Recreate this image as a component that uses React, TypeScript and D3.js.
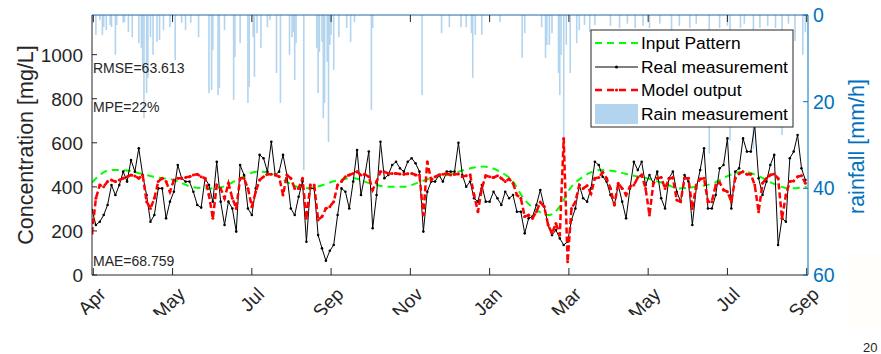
import React from 'react';
import * as d3 from 'd3';

const W = 881;
const H = 354;
const FONT = "'Liberation Sans', Arial, Helvetica, sans-serif";

// Real measurement: one sample every 3 days, starting at day 0
const realStep = 3;
const realValues = [
  295, 227, 242, 272, 318, 408, 363, 408, 469, 424, 522, 469, 575, 454, 363, 242, 272, 393, 393, 257,
  333, 378, 499, 439, 424, 424, 378, 318, 306, 439, 408, 333, 514, 333, 227, 333, 302, 197, 499, 454,
  302, 272, 393, 545, 530, 469, 605,
  454, 469, 545, 454, 302, 272, 355, 424, 151, 393, 393, 181, 121, 65, 110, 136, 272, 393, 378, 302,
  424, 567, 363, 454, 560, 212, 363, 605, 439, 454, 499, 514, 484, 469, 514, 530, 507, 469, 197, 378,
  424, 424, 454, 424, 469,
  469, 469, 600, 454, 401, 424, 348, 333, 408, 333, 333, 378, 348, 318, 378, 348, 363, 287, 287, 189,
  257, 265, 318, 386, 310, 227, 181, 204, 166, 136, 151, 250, 302, 408, 348, 333, 393, 514, 499, 446,
  424, 363, 318, 408, 333, 257, 393,
  514, 476, 514, 408, 454, 416, 469, 348, 302, 439, 469, 378, 333, 454, 424, 227, 393, 476, 575, 302,
  302, 363, 484, 499, 620, 302, 469, 484, 620, 560, 560, 680, 439, 363, 424, 499, 545, 136, 257, 242,
  530, 560, 635, 484, 431,
];

// Model output: same sampling as the real measurement
const modelValues = [
  190, 348, 408, 401, 424, 431, 424, 431, 439, 446, 454, 449, 439, 454, 333, 302, 348, 424, 439, 424,
  378, 431, 439, 439, 443, 446, 454, 457, 446, 439, 363, 257, 408, 393, 348, 416, 348, 302, 439, 439,
  393, 310, 378, 431, 446, 457, 457,
  454, 446, 363, 454, 439, 393, 393, 439, 257, 408, 408, 250, 265, 302, 310, 333, 408, 424, 446, 454,
  461, 469, 454, 457, 446, 386, 424, 469, 469, 461, 461, 461, 458, 457, 460, 461, 454, 454, 272, 514,
  431, 446, 454, 457, 460,
  454, 457, 458, 446, 451, 454, 363, 287, 393, 451, 446, 442, 451, 439, 424, 436, 416, 363, 348, 265,
  272, 257, 287, 330, 310, 227, 189, 234, 181, 620, 60, 302, 333, 408, 393, 405, 370, 439, 442, 466,
  439, 393, 318, 416, 393, 363, 401,
  408, 442, 454, 393, 272, 416, 439, 443, 393, 436, 442, 340, 333, 439, 439, 302, 408, 436, 439, 333,
  333, 408, 420, 386, 378, 333, 439, 460, 469, 457, 457, 408, 287, 416, 439, 454, 458, 439, 257, 363,
  424, 427, 446, 451, 416,
];

// Input pattern (smooth)
const inputDays = [
  0, 14, 24, 37, 50, 63, 78, 91, 101, 114, 127, 137, 152, 163, 173, 188, 201, 214, 227, 240,
  253, 265, 276, 286, 301, 314, 324, 332, 342, 352, 360, 368, 378, 391, 404, 414, 427, 440, 452, 465,
  478, 491, 501, 511, 524, 537, 550,
];
const inputValues = [
  420, 476, 476, 461, 443, 431, 398, 393, 401, 439, 469, 465, 416, 393, 401, 428, 439, 416, 401, 401,
  424, 446, 457, 476, 492, 469, 424, 348, 295, 272, 310, 393, 446, 476, 469, 454, 439, 416, 393, 401,
  416, 454, 469, 454, 416, 393, 401,
];

// Rain measurement (mm/h)
const rainDays = [
  1, 3, 6, 8, 9, 11, 14, 15, 18, 19, 24, 25, 28, 31, 36, 38, 39, 40, 42, 43,
  45, 47, 50, 52, 55, 60, 64, 69, 72, 76, 82, 90, 92, 93, 97, 98, 102, 109, 110, 114,
  120, 121, 124, 125, 127, 130, 135, 137, 142, 145, 152, 154, 155, 156, 157, 163, 173, 174, 175, 177,
  178, 179, 181, 182, 183, 184, 186, 190, 196, 199, 202, 215, 216, 254, 269, 275, 284, 288, 292, 293,
  295, 300, 314, 331, 333, 346, 349, 350, 352, 354, 359, 360, 361, 363, 365, 368, 373, 375, 379, 383,
  387, 399, 406, 412, 418, 424, 429, 437, 446, 452, 460, 465, 475, 483, 489, 491, 499, 502, 509, 514,
  520, 526, 531, 536, 541, 547, 549,
];
const rainValues = [
  1.8, 4.6, 1.2, 4.6, 2.8, 3.5, 2.3, 2.8, 9.2, 2.3, 1.8, 1.6, 3.9, 5.1, 6.5, 7.6, 12, 23.8, 18, 14.5,
  5.1, 9.2, 6.2, 5.8, 3.5, 2.8, 10.4, 1.8, 3.5, 1.8, 5.1, 18, 17.3, 8.1, 18.5, 16.8, 3.5, 19.6, 9.7, 6.5,
  20.3, 16.6, 5.1, 14.3, 4.2, 7.6, 2.8, 1.2, 13.4, 20.3, 9.2, 5.1, 3.9, 15, 6.5, 35.8, 7.6, 18, 8.5, 6.2,
  23.8, 20.3, 10.8, 29.3, 6.9, 4.6, 12.7, 5.1, 3, 6.2, 1.6, 21.9, 3, 18.5, 4.2, 2.8, 2.8, 2.8, 4.2, 14.5,
  4.6, 4.6, 1.6, 9.9, 4.2, 2.8, 9.9, 6.9, 6.9, 4.2, 13.4, 18.5, 9.2, 28.4, 6.9, 13.4, 6.5, 3.5, 2.3, 3.9,
  2.3, 2.5, 3, 2, 3, 2.5, 3, 2, 3.5, 2.5, 3, 2, 32, 3, 2.5, 29, 3, 2, 31, 3,
  2.5, 3, 27.7, 2, 6, 9.2, 4,
];

const leftTicks = [0, 200, 400, 600, 800, 1000];
const rightTicks = [0, 20, 40, 60];
const xTickDays = [1, 62, 123, 184, 245, 306, 367, 428, 489, 550];
const xTickLabels = ['Apr', 'May', 'Jul', 'Sep', 'Nov', 'Jan', 'Mar', 'May', 'Jul', 'Sep'];
const statLabels = ['RMSE=63.613', 'MPE=22%', 'MAE=68.759'];
const legendLabels = ['Input Pattern', 'Real measurement', 'Model output', 'Rain measurement'];
const leftTitle = 'Concentration [mg/L]';
const rightTitle = 'rainfall [mm/h]';
const pageNumber = '20';

const AXIS = '#262626';
const BLUE = '#0072BD';
const RAIN = '#b3d4ee';

export default function App() {
  const left = 92, right = 808, top = 15, bottom = 275;
  const x = d3.scaleLinear().domain([0, 551]).range([left, right]);
  const yL = d3.scaleLinear().domain([0, 1180]).range([bottom, top]);
  const yR = d3.scaleLinear().domain([0, 60]).range([top, bottom]);

  const real: [number, number][] = realValues.map((v, i) => [i * realStep, v]);
  const model: [number, number][] = modelValues.map((v, i) => [i * realStep, v]);
  const input: [number, number][] = inputDays.map((d, i) => [d, inputValues[i]]);

  const line = d3.line<[number, number]>().x(d => x(d[0])).y(d => yL(d[1]));
  const smooth = d3.line<[number, number]>().x(d => x(d[0])).y(d => yL(d[1])).curve(d3.curveMonotoneX);

  const legX = 591, legY = 30, legW = 202, legH = 97;
  const rowY = [43, 67, 90, 114];

  return (
    <svg width={W} height={H} style={{ position: 'absolute', left: 0, top: 0, background: '#fff' }} fontFamily={FONT}>
      <defs>
        <clipPath id="plot"><rect x={left} y={top} width={right - left} height={bottom - top} /></clipPath>
        <clipPath id="xlab"><rect x={0} y={276} width={W} height={39} /></clipPath>
      </defs>
      <rect x={0} y={0} width={W} height={H} fill="#fff" />
      <rect x={848} y={253} width={33} height={77} fill="#fffefa" />

      {/* rain bars */}
      <g clipPath="url(#plot)">
        {rainDays.map((d, i) => (
          <rect key={i} x={x(d) - 0.8} y={yR(0)} width={1.6} height={yR(rainValues[i]) - yR(0)} fill={RAIN} />
        ))}
      </g>

      {/* lines */}
      <g clipPath="url(#plot)">
        <path d={smooth(input) || ''} fill="none" stroke="#00ff00" strokeWidth={2} strokeDasharray="7 5" />
        <path d={line(real) || ''} fill="none" stroke="#000" strokeWidth={1} />
        {real.map((d, i) => <circle key={i} cx={x(d[0])} cy={yL(d[1])} r={1.3} fill="#000" />)}
        <path d={line(model) || ''} fill="none" stroke="#ff0000" strokeWidth={2.5} strokeDasharray="6 3" />
        {model.map((d, i) => <circle key={i} cx={x(d[0])} cy={yL(d[1])} r={1.5} fill="#ff0000" />)}
      </g>

      {/* axes box */}
      <line x1={left} x2={right} y1={top} y2={top} stroke="#1f67a8" strokeWidth={1} />
      <line x1={left} x2={right} y1={bottom} y2={bottom} stroke={AXIS} strokeWidth={1} />
      <line x1={left} x2={left} y1={top} y2={bottom} stroke={AXIS} strokeWidth={1} />
      <line x1={right} x2={right} y1={top} y2={bottom} stroke={BLUE} strokeWidth={1} />

      {/* x ticks */}
      {xTickDays.map((d, i) => (
        <g key={i}>
          <line x1={x(d)} x2={x(d)} y1={bottom} y2={bottom - 7} stroke={AXIS} />
          <line x1={x(d)} x2={x(d)} y1={top} y2={top + 7} stroke={AXIS} />
        </g>
      ))}
      <g clipPath="url(#xlab)">
        {xTickDays.map((d, i) => (
          <text key={i} transform={`translate(${x(d) + 9},${291}) rotate(-45)`} textAnchor="end"
            dominantBaseline="central" fontSize={19} fill={AXIS}>{xTickLabels[i]}</text>
        ))}
      </g>

      {/* left axis */}
      {leftTicks.map(t => (
        <g key={t}>
          <line x1={left} x2={left + 5} y1={yL(t)} y2={yL(t)} stroke={AXIS} />
          <text x={83} y={yL(t)} dy="0.36em" textAnchor="end" fontSize={19} fill={AXIS}>{t}</text>
        </g>
      ))}
      <text transform={`translate(33,145) rotate(-90)`} textAnchor="middle" fontSize={21.5} fill={AXIS}>{leftTitle}</text>

      {/* right axis */}
      {rightTicks.map(t => (
        <g key={t}>
          <line x1={right} x2={right - 5} y1={yR(t)} y2={yR(t)} stroke={BLUE} />
          <text x={813} y={yR(t)} dy="0.36em" textAnchor="start" fontSize={19.5} fill={BLUE}>{t}</text>
        </g>
      ))}
      <text transform={`translate(864,146.5) rotate(-90)`} textAnchor="middle" fontSize={21.5} fill={BLUE}>{rightTitle}</text>

      {/* statistics */}
      <text x={93} y={73.3} fontSize={14} fill={AXIS}>{statLabels[0]}</text>
      <text x={93} y={112.3} fontSize={14} fill={AXIS}>{statLabels[1]}</text>
      <text x={93} y={266} fontSize={14} fill={AXIS}>{statLabels[2]}</text>

      {/* legend */}
      <g>
        <rect x={legX} y={legY} width={legW} height={legH} fill="#fff" stroke={AXIS} strokeWidth={1} />
        <line x1={595} x2={638} y1={rowY[0]} y2={rowY[0]} stroke="#00ff00" strokeWidth={2} strokeDasharray="7 5" />
        <line x1={595} x2={638} y1={rowY[1]} y2={rowY[1]} stroke="#000" strokeWidth={1} />
        <circle cx={616.5} cy={rowY[1]} r={1.5} fill="#000" />
        <line x1={595} x2={638} y1={rowY[2]} y2={rowY[2]} stroke="#ff0000" strokeWidth={2.5} strokeDasharray="7 5" />
        <circle cx={616.5} cy={rowY[2]} r={1.6} fill="#ff0000" />
        <rect x={595} y={rowY[3] - 10} width={43} height={20} fill={RAIN} />
        {legendLabels.map((s, i) => (
          <text key={i} x={641} y={rowY[i]} dy="0.36em" fontSize={17.4} fill="#000">{s}</text>
        ))}
      </g>

      <text x={863} y={352} fontSize={13} fill={AXIS}>{pageNumber}</text>
    </svg>
  );
}
